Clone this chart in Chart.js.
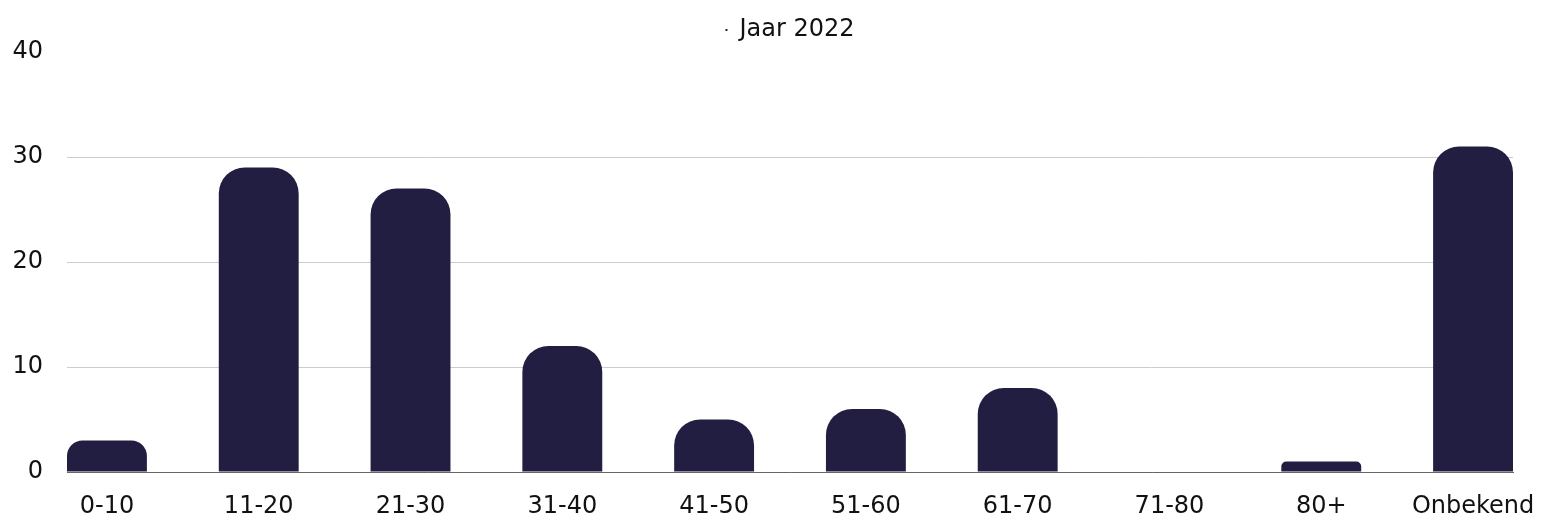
<!DOCTYPE html>
<html>
<head>
<meta charset="utf-8">
<script src="https://cdn.jsdelivr.net/npm/chart.js@4"></script>
<style>
    html, body { margin: 0; padding: 0; background: #fff; }
    #wrap { width: 1543px; height: 521px; }
</style>
</head>
<body>
<div id="wrap"><canvas id="chart"></canvas></div>
<script>
// Leeftijdsgroepen en aantallen
const ageGroups = ['0-10', '11-20', '21-30', '31-40', '41-50', '51-60', '61-70', '71-80', '80+', 'Onbekend'];
const counts2022 = [3, 29, 27, 12, 5, 6, 8, 0, 1, 31];
const yTicks = [0, 10, 20, 30, 40];

const fontFamily = '"DejaVu Sans", sans-serif';
const barColor = '#221e41';

// lineaire x-as zodat het plotgebied precies bij de buitenste staven begint
const edge = 40 / 152;

new Chart(document.getElementById('chart'), {
    type: 'bar',
    data: {
        datasets: [{
            label: 'Jaar 2022',
            data: ageGroups.map((g, i) => ({ x: i, y: counts2022[i] })),
            backgroundColor: barColor,
            borderRadius: 26,
            borderSkipped: 'bottom',
            categoryPercentage: 1,
            barPercentage: 80 / 152
        }]
    },
    options: {
        responsive: true,
        maintainAspectRatio: false,
        animation: false,
        layout: { padding: { left: 13, right: 30, top: 11, bottom: 0 } },
        plugins: {
            legend: {
                display: true,
                fullSize: false,
                labels: {
                    boxWidth: 2,
                    boxHeight: 2,
                    color: '#111',
                    font: { family: fontFamily, size: 24 },
                    padding: 7
                }
            },
            tooltip: { enabled: false }
        },
        scales: {
            x: {
                type: 'linear',
                offset: false,
                min: -edge,
                max: ageGroups.length - 1 + edge,
                afterFit: s => { s.paddingLeft = 0; s.paddingRight = 0; s.height = 49; },
                grid: { display: false, drawTicks: false, offset: false },
                border: { display: true, color: '#666', width: 1 },
                ticks: {
                    stepSize: 1,
                    includeBounds: false,
                    autoSkip: false,
                    maxRotation: 0,
                    padding: 20,
                    color: '#111',
                    font: { family: fontFamily, size: 24 },
                    callback: v => Number.isInteger(v) ? (ageGroups[v] ?? '') : ''
                }
            },
            y: {
                min: yTicks[0],
                max: yTicks[yTicks.length - 1],
                afterBuildTicks: axis => { axis.ticks = yTicks.map(v => ({ value: v })); },
                afterFit: s => { s.paddingTop = 0; s.paddingBottom = 0; s.width = 54; },
                grid: {
                    drawTicks: false,
                    color: ctx => (ctx.tick && ctx.tick.value === 40) ? 'rgba(0,0,0,0)' : '#cccccc',
                    lineWidth: 1
                },
                border: { display: false },
                ticks: {
                    padding: 24,
                    color: '#111',
                    font: { family: fontFamily, size: 24 }
                }
            }
        }
    }
});
</script>
</body>
</html>
